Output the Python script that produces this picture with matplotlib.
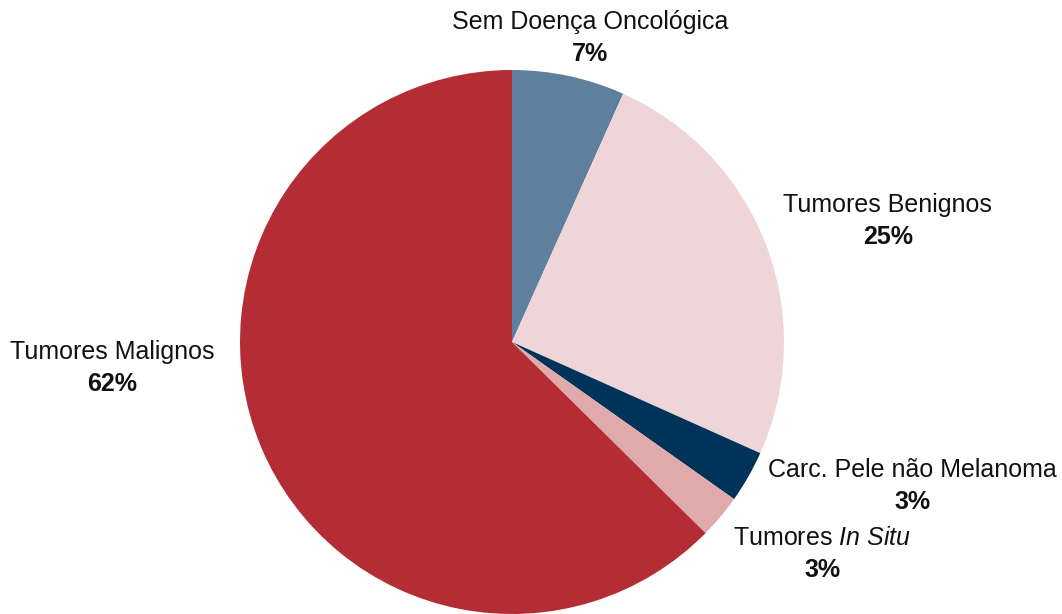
import matplotlib
matplotlib.use('Agg')
import matplotlib.pyplot as plt
from matplotlib import font_manager

# dados
categorias = ['Sem Doença Oncológica', 'Tumores Benignos', 'Carc. Pele não Melanoma',
              'Tumores In Situ', 'Tumores Malignos']
valores = [6.7, 25.0, 3.1, 2.6, 62.6]
percentagens = ['7%', '25%', '3%', '3%', '62%']
cores = ['#5F7F9E', '#EFD5D7', '#00335A', '#E0A9AC', '#B42D34']

names = {f.name for f in font_manager.fontManager.ttflist}
fonte = 'Liberation Sans Narrow' if 'Liberation Sans Narrow' in names else 'Liberation Sans'
plt.rcParams['font.family'] = [fonte, 'DejaVu Sans']
plt.rcParams['mathtext.fontset'] = 'custom'
plt.rcParams['mathtext.rm'] = fonte
plt.rcParams['mathtext.it'] = fonte + ':italic'

fig = plt.figure(figsize=(10.62, 6.14), dpi=100)
ax = fig.add_axes([240 / 1062, 0, 544 / 1062, 544 / 614])
ax.pie(valores, colors=cores, startangle=90, counterclock=False, radius=1,
       wedgeprops=dict(linewidth=0))
ax.set_xlim(-1, 1)
ax.set_ylim(-1, 1)
ax.set_aspect('equal')
ax.axis('off')

# posição dos rótulos (coordenadas dos dados)
pos_rotulos = [(0.287, 1.176), (1.382, 0.504), (1.471, -0.471), (1.140, -0.721), (-1.471, -0.037)]
textos = ['Sem Doença Oncológica', 'Tumores Benignos', 'Carc. Pele não Melanoma',
          r'Tumores $\mathit{In\ Situ}$', 'Tumores Malignos']

for (x, y), t, p in zip(pos_rotulos, textos, percentagens):
    ax.text(x, y, t, ha='center', va='center', fontsize=18, color='#111111')
    ax.text(x, y - 0.117, p, ha='center', va='center', fontsize=18,
            fontweight='bold', color='#111111')

fig.savefig('out.png', dpi=100)
